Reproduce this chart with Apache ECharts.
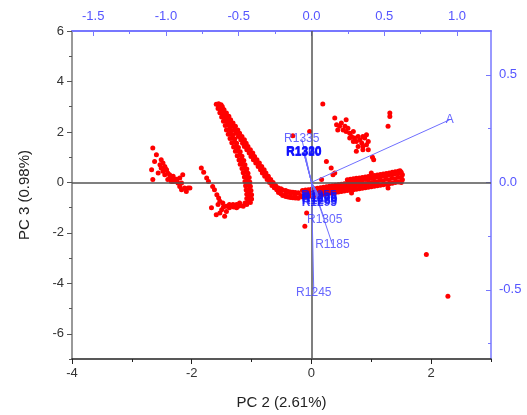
<!DOCTYPE html>
<html>
<head>
<meta charset="utf-8">
<script src="https://cdn.jsdelivr.net/npm/echarts@6/dist/echarts.min.js"></script>
<style>
  html, body { margin: 0; padding: 0; background: #fff; }
  #chart { width: 527px; height: 415px; }
</style>
</head>
<body>
<div id="chart"></div>
<script>
// scores (PC2, PC3)
var leftCluster = [
  [-2.65,1.36],[-2.59,1.10],[-2.62,0.83],[-2.51,0.90],[-2.48,0.77],[-2.53,0.70],[-2.45,0.63],[-2.51,0.57],
  [-2.42,0.50],[-2.48,0.44],[-2.40,0.37],[-2.37,0.30],[-2.45,0.30],[-2.34,0.17],[-2.31,0.24],[-2.28,0.11],
  [-2.26,0.04],[-2.31,0.04],[-2.23,-0.02],[-2.20,0.17],[-2.17,-0.02],[-2.15,0.30],[-2.20,-0.16],[-2.17,-0.29],
  [-2.12,-0.22],[-2.06,-0.22],[-2.09,-0.36],[-2.65,0.11],[-2.67,0.50],[-2.56,0.37],[-2.34,0.04],[-2.40,0.11],
  [-2.03,-0.22],[-2.44,0.55],[-2.36,0.20],[-2.25,0.12]
];
var leftArc = [
  [-1.84,0.57],[-1.80,0.40],[-1.75,0.17],[-1.72,0.04],[-1.65,-0.16],[-1.62,-0.29],[-1.58,-0.49],
  [-1.55,-0.62],[-1.53,-0.75],[-1.67,-1.01],[-1.59,-1.28]
];
var loopLeft = [
  [-1.59,3.10],[-1.55,3.12],[-1.51,3.08],[-1.56,2.93],[-1.52,2.95],[-1.48,2.91],[-1.53,2.76],[-1.49,2.78],[-1.45,2.74],
  [-1.50,2.59],[-1.46,2.61],[-1.42,2.57],[-1.47,2.42],[-1.43,2.44],[-1.39,2.40],[-1.44,2.25],[-1.40,2.27],[-1.36,2.23],
  [-1.42,2.08],[-1.38,2.10],[-1.34,2.06],[-1.39,1.91],[-1.35,1.93],[-1.31,1.89],[-1.36,1.74],[-1.32,1.76],[-1.28,1.72],
  [-1.33,1.57],[-1.29,1.59],[-1.25,1.55],[-1.30,1.40],[-1.26,1.42],[-1.22,1.38],[-1.27,1.23],[-1.23,1.25],[-1.19,1.21],
  [-1.24,1.06],[-1.20,1.08],[-1.16,1.04],[-1.21,0.89],[-1.17,0.91],[-1.13,0.87],[-1.19,0.72],[-1.15,0.74],[-1.11,0.70],
  [-1.16,0.55],[-1.12,0.57],[-1.08,0.53],[-1.14,0.38],[-1.10,0.40],[-1.06,0.36],[-1.12,0.21],[-1.08,0.23],[-1.04,0.19],
  [-1.11,0.04],[-1.07,0.06],[-1.03,0.02],[-1.10,-0.13],[-1.06,-0.11],[-1.02,-0.15],[-1.09,-0.30],[-1.05,-0.28],[-1.01,-0.32],
  [-1.08,-0.47],[-1.04,-0.45],[-1.00,-0.49],[-1.08,-0.64],[-1.04,-0.62],[-1.00,-0.66]
];
var loopRight = [
  [-1.55,3.01],[-1.49,3.01],[-1.52,2.88],[-1.46,2.88],[-1.48,2.75],[-1.42,2.75],[-1.44,2.62],[-1.38,2.62],
  [-1.41,2.48],[-1.35,2.48],[-1.37,2.35],[-1.31,2.35],[-1.33,2.22],[-1.27,2.22],[-1.29,2.08],[-1.23,2.08],
  [-1.26,1.95],[-1.20,1.95],[-1.22,1.82],[-1.16,1.82],[-1.18,1.69],[-1.12,1.69],[-1.15,1.55],[-1.09,1.55],
  [-1.12,1.42],[-1.06,1.42],[-1.08,1.29],[-1.02,1.29],[-1.04,1.16],[-0.98,1.16],[-1.01,1.03],[-0.95,1.03],
  [-0.97,0.90],[-0.91,0.90],[-0.93,0.77],[-0.87,0.77],[-0.89,0.63],[-0.83,0.63],[-0.85,0.50],[-0.79,0.50],
  [-0.82,0.37],[-0.76,0.37],[-0.78,0.24],[-0.72,0.24],[-0.74,0.11],[-0.68,0.11],[-0.70,0.00],[-0.64,0.00],
  [-0.66,-0.12],[-0.60,-0.12],[-0.62,-0.21],[-0.56,-0.21],[-0.58,-0.29],[-0.52,-0.29],[-0.51,-0.25],[-0.55,-0.40],
  [-0.51,-0.45],[-0.48,-0.30],[-0.48,-0.52],[-0.43,-0.32],[-0.43,-0.56],[-0.39,-0.36],[-0.39,-0.58],[-0.35,-0.38],
  [-0.35,-0.60],[-0.31,-0.39],[-0.31,-0.61],[-0.27,-0.40],[-0.27,-0.62],[-0.22,-0.41],[-0.22,-0.63],[-0.43,-0.44],
  [-0.35,-0.49],[-0.27,-0.51],[-0.18,-0.52]
];
var loopBottom = [
  [-1.56,-0.88],[-1.48,-0.82],[-1.42,-0.95],[-1.37,-0.88],[-1.31,-0.88],[-1.25,-0.88],[-1.20,-0.82],[-1.11,-0.82],
  [-1.06,-0.75],[-1.03,-0.55],[-1.50,-1.08],[-1.42,-1.15],[-1.45,-1.34],[-1.53,-1.21],[-1.37,-1.01],[-1.25,-1.01],
  [-1.14,-0.95],[-1.30,-0.98],[-1.18,-0.92],[-1.47,-0.98],[-1.08,-0.88],[-1.02,-0.80],[-1.35,-0.94],[-1.22,-0.95]
];
var band = [
  [-0.15,-0.58],[-0.05,-0.55],[0.05,-0.52],[0.15,-0.48],[0.25,-0.45],[0.35,-0.41],[0.45,-0.38],[0.55,-0.34],[0.65,-0.30],
  [0.75,-0.27],[0.85,-0.23],[0.95,-0.19],[1.05,-0.15],[1.15,-0.11],[1.25,-0.07],[1.35,-0.03],[1.45,0.02],
  [-0.10,-0.57],[0.00,-0.54],[0.10,-0.50],[0.20,-0.47],[0.30,-0.43],[0.40,-0.40],[0.50,-0.36],[0.60,-0.32],[0.70,-0.29],
  [0.80,-0.25],[0.90,-0.21],[1.00,-0.17],[1.10,-0.13],[1.20,-0.09],[1.30,-0.05],[1.40,0.00],
  [-0.10,-0.45],[0.00,-0.42],[0.10,-0.38],[0.20,-0.35],[0.30,-0.31],[0.40,-0.27],[0.50,-0.23],[0.60,-0.19],[0.70,-0.15],
  [0.80,-0.11],[0.90,-0.07],[1.00,-0.03],[1.10,0.02],[1.20,0.06],[1.30,0.10],[1.40,0.14],[1.50,0.18],
  [-0.05,-0.40],[0.05,-0.37],[0.15,-0.33],[0.25,-0.29],[0.35,-0.25],[0.45,-0.21],[0.55,-0.17],[0.65,-0.13],[0.75,-0.09],
  [0.85,-0.05],[0.95,-0.01],[1.05,0.03],[1.15,0.08],[1.25,0.12],[1.35,0.16],[1.45,0.20],
  [-0.15,-0.32],[-0.05,-0.29],[0.05,-0.25],[0.15,-0.21],[0.25,-0.17],[0.35,-0.13],[0.45,-0.09],[0.55,-0.05],[0.65,0.00],
  [0.75,0.04],[0.85,0.08],[0.95,0.13],[1.05,0.18],[1.15,0.22],[1.25,0.27],[1.35,0.32],[1.45,0.36],
  [-0.10,-0.30],[0.00,-0.27],[0.10,-0.23],[0.20,-0.19],[0.30,-0.15],[0.40,-0.11],[0.50,-0.07],[0.60,-0.03],[0.70,0.02],
  [0.80,0.06],[0.90,0.11],[1.00,0.15],[1.10,0.20],[1.20,0.25],[1.30,0.30],[1.40,0.34],
  [0.60,0.10],[0.70,0.14],[0.80,0.17],[0.90,0.21],[1.00,0.25],[1.10,0.29],[1.20,0.33],[1.30,0.37],[1.40,0.42],[1.48,0.46],
  [0.65,0.12],[0.75,0.16],[0.85,0.19],[0.95,0.23],[1.05,0.27],[1.15,0.31],[1.25,0.35],[1.35,0.40],[1.45,0.44],
  [1.52,0.30],[1.52,0.10],[1.50,0.40],[1.50,0.00]
];
var upperCluster = [
  [0.19,3.11],[0.39,2.55],[0.42,2.28],[0.50,2.35],[0.58,2.48],[0.44,2.08],[0.53,2.08],[0.58,2.02],[0.64,1.95],
  [0.70,2.02],[0.67,1.82],[0.72,1.76],[0.78,1.82],[0.75,1.62],[0.81,1.69],[0.86,1.82],[0.89,1.76],[0.92,1.89],
  [0.95,1.62],[0.84,1.56],[0.86,1.42],[0.78,1.42],[0.92,1.49],[0.75,1.23],[0.86,1.29],[0.95,1.29],[1.02,1.00],
  [1.04,0.90],[1.31,2.75],[1.31,2.61],[1.28,2.22],[0.56,2.22],[0.61,2.15],[0.47,2.22],[0.70,1.62],[0.64,1.76]
];
var outliers = [
  [-0.03,2.02],[-0.31,1.85],[1.92,-2.86],[2.28,-4.51],[-0.08,-1.21],[-0.11,-1.74],[0.25,0.83],[0.33,0.57],
  [0.36,0.30],[0.39,0.37],[0.17,0.11],[1.00,0.37],[0.67,-0.42],[0.78,-0.68],[1.28,-0.22]
];

// loadings (top / right axes)
var loadingNames = ['A', 'R1335', 'R1300', 'R1310', 'R1320', 'R1330', 'R1255', 'R1265', 'R1275', 'R1285', 'R1295', 'R1305', 'R1185', 'R1245'];
var loadingX = [0.95, -0.067, -0.052, -0.054, -0.053, -0.051, 0.052, 0.055, 0.057, 0.056, 0.054, 0.091, 0.144, 0.016];
var loadingY = [0.291, 0.203, 0.137, 0.139, 0.141, 0.143, -0.062, -0.070, -0.078, -0.086, -0.094, -0.173, -0.289, -0.514];
// labels that pile up on each other (drawn heavier, as in the picture)
var crowded = ['R1300', 'R1310', 'R1320', 'R1330', 'R1255', 'R1265', 'R1275', 'R1285', 'R1295'];

// tick values
var leftMajor = [-6, -4, -2, 0, 2, 4, 6];
var leftMinor = [-7, -5, -3, -1, 1, 3, 5];
var bottomMajor = [-4, -2, 0, 2];
var bottomMinor = [-3, -1, 1, 3];
var topMajor = [-1.5, -1.0, -0.5, 0.0, 0.5, 1.0];
var topMinor = [-1.25, -0.75, -0.25, 0.25, 0.75];
var rightMajor = [-0.5, 0.0, 0.5];
var rightMinor = [-0.75, -0.25, 0.25];

var FONT = 'Liberation Sans, Arial, sans-serif';
var BLUE = '#5555ff';
var LABEL_BLUE = '#4040ff';
var LINE_BLUE = '#6f6fff';

var scores = [].concat(leftCluster, leftArc, loopLeft, loopRight, loopBottom, band, upperCluster, outliers);

// an axis that only draws extra (minor) ticks on top of a main axis
function tickAxis(pos, min, max, values, len, inside, color) {
  return {
    type: 'value', position: pos, min: min, max: max,
    axisLine: { show: false, onZero: false },
    axisLabel: { show: false },
    splitLine: { show: false },
    axisTick: { show: true, customValues: values, length: len, inside: inside, lineStyle: { color: color, width: 1 } }
  };
}

var chart = echarts.init(document.getElementById('chart'));

var series = [
  {
    type: 'scatter',
    xAxisIndex: 0,
    yAxisIndex: 0,
    symbolSize: 5,
    itemStyle: { color: '#ff0000', opacity: 1 },
    data: scores,
    z: 3,
    markLine: {
      silent: true,
      symbol: 'none',
      label: { show: false },
      lineStyle: { color: '#555', width: 1.5, type: 'solid' },
      data: [{ xAxis: 0 }, { yAxis: 0 }]
    }
  }
];

loadingNames.forEach(function(name, i) {
  series.push({
    type: 'line',
    xAxisIndex: 1,
    yAxisIndex: 1,
    symbol: 'none',
    z: 5,
    lineStyle: { color: LINE_BLUE, width: 1 },
    data: [[0, 0], [loadingX[i], loadingY[i]]]
  });
});

series.push({
  type: 'scatter',
  xAxisIndex: 1,
  yAxisIndex: 1,
  symbolSize: 1,
  z: 6,
  itemStyle: { color: 'rgba(0,0,0,0)' },
  label: {
    show: true,
    position: 'inside',
    formatter: function(p) { return p.value[2]; },
    color: LABEL_BLUE,
    fontSize: 12,
    fontFamily: FONT
  },
  data: loadingNames.map(function(name, i) {
    var item = { value: [loadingX[i], loadingY[i], name] };
    if (crowded.indexOf(name) >= 0) {
      item.label = { fontWeight: 'bold', color: '#1010ff' };
    }
    return item;
  })
});

var option = {
  animation: false,
  backgroundColor: '#fff',
  grid: { left: 72, right: 36, top: 31, bottom: 55 },
  xAxis: [
    {
      type: 'value', position: 'bottom', min: -4, max: 3,
      name: 'PC 2 (2.61%)', nameLocation: 'middle', nameGap: 36,
      nameTextStyle: { color: '#222', fontSize: 15, fontFamily: FONT },
      axisLine: { show: true, onZero: false, lineStyle: { color: '#222', width: 1.5 } },
      axisTick: { show: true, customValues: bottomMajor, length: 5, lineStyle: { color: '#222' } },
      axisLabel: { customValues: bottomMajor, color: '#333', fontSize: 13, fontFamily: FONT, margin: 8 },
      splitLine: { show: false }
    },
    {
      type: 'value', position: 'top', min: -1.646, max: 1.234,
      axisLine: { show: true, onZero: false, lineStyle: { color: '#7777ff', width: 2 } },
      axisTick: { show: true, inside: true, customValues: topMajor, length: 5, lineStyle: { color: '#7777ff' } },
      axisLabel: {
        customValues: topMajor, color: BLUE, fontSize: 13, fontFamily: FONT, margin: 8,
        formatter: function(v) { return v.toFixed(1); }
      },
      splitLine: { show: false }
    },
    tickAxis('bottom', -4, 3, bottomMinor, 3, false, '#222'),
    tickAxis('top', -1.646, 1.234, topMinor, 3, true, '#7777ff')
  ],
  yAxis: [
    {
      type: 'value', position: 'left', min: -7, max: 6,
      name: 'PC 3 (0.98%)', nameLocation: 'middle', nameGap: 40,
      nameTextStyle: { color: '#222', fontSize: 15, fontFamily: FONT },
      axisLine: { show: true, onZero: false, lineStyle: { color: '#777', width: 1.5 } },
      axisTick: { show: true, customValues: leftMajor, length: 5, lineStyle: { color: '#555' } },
      axisLabel: { customValues: leftMajor, color: '#333', fontSize: 13, fontFamily: FONT, margin: 8 },
      splitLine: { show: false }
    },
    {
      type: 'value', position: 'right', min: -0.822, max: 0.704,
      axisLine: { show: true, onZero: false, lineStyle: { color: '#7777ff', width: 1.5 } },
      axisTick: { show: true, inside: true, customValues: rightMajor, length: 5, lineStyle: { color: '#7777ff' } },
      axisLabel: {
        customValues: rightMajor, color: BLUE, fontSize: 13, fontFamily: FONT, margin: 8,
        formatter: function(v) { return v.toFixed(1); }
      },
      splitLine: { show: false }
    },
    tickAxis('left', -7, 6, leftMinor, 3, false, '#555'),
    tickAxis('right', -0.822, 0.704, rightMinor, 3, true, '#7777ff')
  ],
  series: series
};

chart.setOption(option);
</script>
</body>
</html>
